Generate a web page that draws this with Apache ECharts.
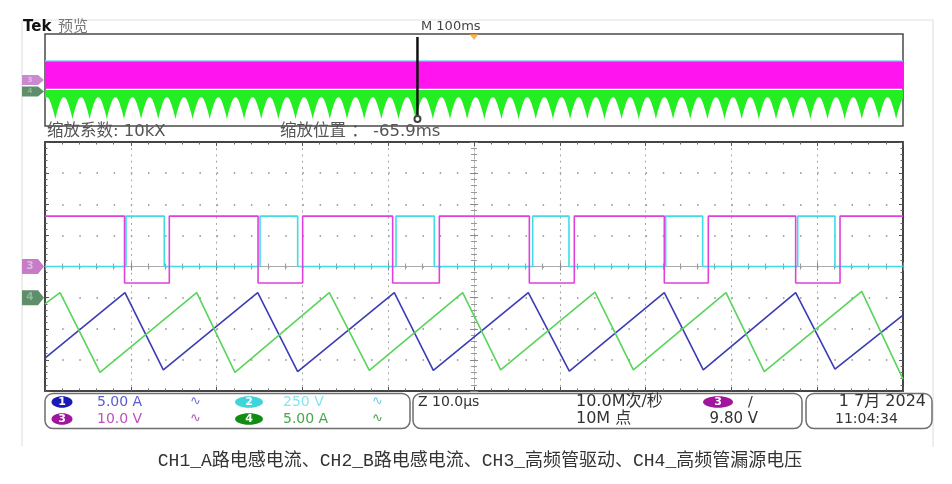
<!DOCTYPE html>
<html><head><meta charset="utf-8">
<script src="https://cdn.jsdelivr.net/npm/echarts@6/dist/echarts.min.js"></script>
<style>html,body{margin:0;padding:0;background:#fff;}#c{width:952px;height:484px;}</style>
</head><body><div id="c"></div>
<script>
// ================= DATA =================
// Main (zoomed) window: 10 µs/div, 10 divisions
const mainTimeUs = [0, 100];
// CH1 (A-leg inductor current, A) – triangle vertices
const ch1TimesUs = [0, 9.32, 13.79, 24.79, 29.45, 40.71, 45.26, 56.33, 61.11, 72.18, 76.72, 87.49, 92.07, 100];
const ch1Amps    = [-9.7, 0.8, -11.6, 0.8, -11.9, 0.8, -11.7, 0.8, -11.8, 0.8, -11.6, 0.8, -11.5, -2.8];
// CH4 (B-leg inductor current, A)
const ch4TimesUs = [0, 1.75, 6.41, 17.68, 22.14, 33.14, 37.8, 48.68, 53.11, 64.1, 68.57, 79.37, 83.83, 95.19, 100];
const ch4Amps    = [-1.0, 0.8, -12.0, 0.8, -12.0, 0.8, -11.7, 0.8, -11.6, 0.9, -11.6, 0.8, -11.9, 1.0, -13.1];
// CH3 (gate drive, V): high / low levels and edge times
const ch3LevelsV = [16.2, -5.3];
const ch3FallUs  = [9.27, 24.83, 40.52, 56.45, 72.18, 87.49];
const ch3RiseUs  = [14.49, 30.03, 45.96, 61.69, 77.31, 92.66];
// CH2 (drain-source voltage, V)
const ch2LevelsV = [0, 405];
const ch2RiseUs  = [9.44, 25.06, 40.91, 56.84, 72.34, 87.73];
const ch2FallUs  = [13.9, 29.45, 45.37, 61.07, 76.65, 92.07];
// Channel vertical scales (units/div) and offsets (div)
const chScale  = {ch1: 5, ch2: 250, ch3: 10, ch4: 5};
const chOffset = {ch1: -1, ch2: 0, ch3: 0, ch4: -1};

// Overview (record) window: 100 ms/div
const overviewTimeMs = [-500, 500];
const zoomPosMs = -65.9;
const ovCh2EnvelopeV = [0, 430];
const ovCh3EnvelopeV = [-7.5, 16];
const ovCh4TopA = 0.7;
const ovCh4FirstTipMs = -488, ovCh4PeriodMs = 20, ovCh4TipCount = 50;
const ovCh4ProfilePhaseMs = [-10, -8.5, -7, -5, -3, -1.5, 0, 1.5, 3, 5, 7, 8.5];
const ovCh4ProfileA       = [-2.5, -2.7, -3.4, -5.2, -7.6, -9.6, -12, -9.6, -7.6, -5.2, -3.4, -2.7];

// ================= BUILD =================
const toDiv = (ch) => (v) => chOffset[ch] + v / chScale[ch];
function pairs(ts, vs, ch){ const f = toDiv(ch); return ts.map((t,i)=>[t, f(vs[i])]); }
function stepPoints(startLevel, otherLevel, toOther, toStart, t0, t1){
  const edges = [];
  toOther.forEach(t=>edges.push([t, otherLevel]));
  toStart.forEach(t=>edges.push([t, startLevel]));
  edges.sort((a,b)=>a[0]-b[0]);
  const pts=[[t0,startLevel]]; let lv=startLevel;
  edges.forEach(([t,n])=>{pts.push([t,lv]);pts.push([t,n]);lv=n;});
  pts.push([t1,lv]);
  return pts;
}
const ch3Pts = stepPoints(ch3LevelsV[0], ch3LevelsV[1], ch3FallUs, ch3RiseUs, mainTimeUs[0], mainTimeUs[1]).map(([t,v])=>[t,toDiv('ch3')(v)]);
const ch2Pts = stepPoints(ch2LevelsV[0], ch2LevelsV[1], ch2RiseUs, ch2FallUs, mainTimeUs[0], mainTimeUs[1]).map(([t,v])=>[t,toDiv('ch2')(v)]);

// overview CH4 lower envelope
const ovX=[], ovLow=[];
for(let k=-1;k<=ovCh4TipCount;k++){
  const tip = ovCh4FirstTipMs + k*ovCh4PeriodMs;
  ovCh4ProfilePhaseMs.forEach((p,i)=>{ovX.push(tip+p); ovLow.push(toDiv('ch4')(ovCh4ProfileA[i]));});
}
const ovHigh = ovX.map(()=>toDiv('ch4')(ovCh4TopA));

function band(xs, lows, highs, color, z){
  return {type:'custom', xAxisIndex:4, yAxisIndex:4, data:[[0,0]], clip:true, silent:true, z:z,
    renderItem:function(params, api){
      const pts=[];
      for(let i=0;i<xs.length;i++) pts.push(api.coord([xs[i], highs[i]]));
      for(let i=xs.length-1;i>=0;i--) pts.push(api.coord([xs[i], lows[i]]));
      return {type:'polygon', shape:{points:pts}, style:{fill:color}};
    }};
}
const full = overviewTimeMs;

const MAIN = {left:45, top:142, width:858, height:249};
const OV = {left:45, top:34, width:858, height:92};
const HALF_H = MAIN.height/2, HALF_W = MAIN.width/2;

const border = {show:true, onZero:false, lineStyle:{color:'#444', width:2}};
const bTick = {show:true, inside:true, length:4, lineStyle:{color:'#555'}};
const bMinor = {show:true, splitNumber:5, length:2.5, lineStyle:{color:'#666'}};
const cLine = {show:true, onZero:false, lineStyle:{color:'#aaa', width:1}};
const noLabel = {show:false};

function xAx(extra){ return Object.assign({gridIndex:0, type:'value', min:mainTimeUs[0], max:mainTimeUs[1], interval:10, axisLabel:noLabel, splitLine:{show:false}}, extra); }
function yAx(extra){ return Object.assign({gridIndex:0, type:'value', min:-4, max:4, interval:1, axisLabel:noLabel, splitLine:{show:false}}, extra); }

const option = {
  animation:false,
  backgroundColor:'#ffffff',
  grid:[
    Object.assign({outerBoundsMode:'none', containLabel:false}, MAIN),
    Object.assign({outerBoundsMode:'none', containLabel:false, show:true, borderColor:'#4a4a4a', borderWidth:1.5, backgroundColor:'transparent'}, OV)
  ],
  xAxis:[
    xAx({position:'bottom', axisLine:border, axisTick:bTick, minorTick:bMinor,
         splitLine:{show:true, lineStyle:{color:'#a8a8a8', width:1, type:[2,4.225]}}}),
    xAx({position:'top', axisLine:border, axisTick:bTick, minorTick:bMinor}),
    xAx({position:'bottom', offset:-HALF_H, axisLine:cLine, axisTick:{show:true, inside:true, length:4, lineStyle:{color:'#888'}}, minorTick:{show:true, splitNumber:5, length:3, lineStyle:{color:'#999'}}}),
    xAx({position:'bottom', offset:-HALF_H, axisLine:cLine, axisTick:{show:true, inside:false, length:4, lineStyle:{color:'#888'}}, minorTick:{show:true, splitNumber:5, length:3, lineStyle:{color:'#999'}}}),
    {gridIndex:1, type:'value', min:full[0], max:full[1], show:false}
  ],
  yAxis:[
    yAx({position:'left', axisLine:border, axisTick:bTick, minorTick:bMinor,
         splitLine:{show:true, lineStyle:{color:'#8c8c8c', width:1.5, type:[1.5,15.66]}}}),
    yAx({position:'right', axisLine:border, axisTick:bTick, minorTick:bMinor}),
    yAx({position:'left', offset:-HALF_W, axisLine:{show:true,onZero:false,lineStyle:{color:'#b0b0b0',width:1,type:[2,2]}}, axisTick:{show:true, inside:true, length:4, lineStyle:{color:'#888'}}, minorTick:{show:true, splitNumber:5, length:3, lineStyle:{color:'#999'}}}),
    yAx({position:'left', offset:-HALF_W, axisLine:{show:false}, axisTick:{show:true, inside:false, length:4, lineStyle:{color:'#888'}}, minorTick:{show:true, splitNumber:5, length:3, lineStyle:{color:'#999'}}}),
    {gridIndex:1, type:'value', min:-4, max:4, show:false}
  ],
  series:[
    {type:'line', name:'CH1', xAxisIndex:0, yAxisIndex:0, data:pairs(ch1TimesUs, ch1Amps, 'ch1'), symbol:'none', lineStyle:{color:'#3c3cb4', width:1.6}, z:3},
    {type:'line', name:'CH2', xAxisIndex:0, yAxisIndex:0, data:ch2Pts, symbol:'none', lineStyle:{color:'#3fdce6', width:1.6}, z:4},
    {type:'line', name:'CH3', xAxisIndex:0, yAxisIndex:0, data:ch3Pts, symbol:'none', lineStyle:{color:'#e040dc', width:1.6}, z:5},
    {type:'line', name:'CH4', xAxisIndex:0, yAxisIndex:0, data:pairs(ch4TimesUs, ch4Amps, 'ch4'), symbol:'none', lineStyle:{color:'#5ad45a', width:1.6}, z:6},
    band([full[0], full[1]], [toDiv('ch2')(ovCh2EnvelopeV[0]),toDiv('ch2')(ovCh2EnvelopeV[0])], [toDiv('ch2')(ovCh2EnvelopeV[1]),toDiv('ch2')(ovCh2EnvelopeV[1])], '#7ad8f0', 2),
    band([full[0], full[1]], [toDiv('ch3')(ovCh3EnvelopeV[0]),toDiv('ch3')(ovCh3EnvelopeV[0])], [toDiv('ch3')(ovCh3EnvelopeV[1]),toDiv('ch3')(ovCh3EnvelopeV[1])], '#ff14f0', 3),
    band(ovX, ovLow, ovHigh, '#22ee22', 4),
    {type:'line', xAxisIndex:4, yAxisIndex:4, z:8, silent:true,
     data:[{value:[zoomPosMs, 3.75], symbol:'none'}, {value:[zoomPosMs, -3.4]}],
     symbol:'emptyCircle', symbolSize:6, showSymbol:true,
     itemStyle:{color:'#444', borderColor:'#444'}, lineStyle:{color:'#111', width:2.5}},
    {type:'scatter', xAxisIndex:4, yAxisIndex:4, z:9, silent:true, data:[[0,4]],
     symbol:'path://M0 0 L10 0 L5 6 Z', symbolSize:[9,6], symbolOffset:[0,3], itemStyle:{color:'#f5a42c'}}
  ]
};

const chart = echarts.init(document.getElementById('c'));
chart.setOption(option);

function marker(y, h, color, label, labelColor){
  const x0=22, x1=38, x2=44;
  return [
    {type:'polygon', shape:{points:[[x0,y-h],[x1,y-h],[x2,y],[x1,y+h],[x0,y+h]]}, style:{fill:color}, z:10},
    {type:'text', x:30, y:y, style:{text:label, fill:labelColor, font:'bold '+(h*1.4)+'px "DejaVu Sans"', align:'center', verticalAlign:'middle', textAlign:'center', textVerticalAlign:'middle'}, z:11}
  ];
}
const yM3 = chart.convertToPixel({xAxisIndex:0, yAxisIndex:0}, [0, chOffset.ch3])[1];
const yM4 = chart.convertToPixel({xAxisIndex:0, yAxisIndex:0}, [0, chOffset.ch4])[1];
const yO3 = chart.convertToPixel({xAxisIndex:4, yAxisIndex:4}, [0, chOffset.ch3])[1];
const yO4 = chart.convertToPixel({xAxisIndex:4, yAxisIndex:4}, [0, chOffset.ch4])[1];

function T(text, x, y, font, fill, align){
  return {type:'text', x:x, y:y, z:20, style:{text:text, fill:fill, font:font, align:align||'left', textAlign:align||'left', verticalAlign:'middle', textVerticalAlign:'middle'}};
}
const F = (s, w) => (w?w+' ':'') + s + 'px "DejaVu Sans", "Noto Sans CJK SC", sans-serif';
function oval(cx, cy, rx, color, label){
  return [
    {type:'ellipse', shape:{cx:cx, cy:cy, rx:rx, ry:5.8}, style:{fill:color}, z:20},
    T(label, cx, cy, F(11,'bold'), '#ffffff', 'center')
  ];
}
function box(x, w){ return {type:'rect', shape:{x:x, y:393.5, width:w, height:35, r:8}, style:{fill:'none', stroke:'#6e6e6e', lineWidth:1.5}, z:19}; }

const graphics = [].concat(
  [{type:'polyline', shape:{points:[[22,446],[22,20],[933,20],[933,447]]}, style:{stroke:'#e2e2e2', lineWidth:1.2, fill:'none'}, z:1}],
  marker(yM3, 7.5, '#c77cc8', '3', '#e3b8e3'),
  marker(yM4, 7.5, '#5f8e6b', '4', '#8fb89a'),
  marker(yO3, 5, '#c98ad0', '3', '#e8c0ea'),
  marker(yO4, 5, '#5f8e6b', '4', '#8fb89a'),
  [
    T('Tek', 23, 27.5, F(15,'bold'), '#111'),
    T('预览', 58, 27.5, F(15), '#777'),
    T('M 100ms', 421, 27, F(13), '#444'),
    T('缩放系数: 10kX', 47, 132, F(16.5), '#555'),
    T('缩放位置 ： ' + zoomPosMs + 'ms', 280, 132, F(16.5), '#555'),
    box(45, 365), box(413, 389), box(806, 126)
  ],
  oval(62, 402, 10.5, '#1a1ab4', '1'),
  oval(62, 419, 10.5, '#a0149e', '3'),
  oval(249, 402, 14, '#3ed4dc', '2'),
  oval(249, 419, 14, '#138c13', '4'),
  oval(718, 402, 15, '#a0149e', '3'),
  [
    T(chScale.ch1.toFixed(2)+' A', 97, 402, F(14), '#5a5ad2'),
    T(chScale.ch3.toFixed(1)+' V', 97, 419, F(14), '#c24cc0'),
    T(chScale.ch2+' V', 283, 402, F(14), '#86e6ee'),
    T(chScale.ch4.toFixed(2)+' A', 283, 419, F(14), '#44a844'),
    T('∿', 190, 402, F(13), '#6a6ad0'),
    T('∿', 190, 419, F(13), '#b050b0'),
    T('∿', 372, 402, F(13), '#60d0da'),
    T('∿', 372, 419, F(13), '#44a044'),
    T('Z 10.0µs', 418, 402, F(14), '#333'),
    T('10.0M次/秒', 576, 402, F(16), '#333'),
    T('10M 点', 576, 419, F(16), '#333'),
    T('/', 748, 402, F(14), '#333'),
    T('9.80 V', 758, 419, F(15), '#333', 'right'),
    T('1 7月 2024', 926, 402, F(16), '#333', 'right'),
    T('11:04:34', 835, 419, F(14), '#333'),
    T('CH1_A路电感电流、CH2_B路电感电流、CH3_高频管驱动、CH4_高频管漏源电压', 480, 461,
      '18px "Liberation Mono", "Noto Sans CJK SC", monospace', '#333', 'center')
  ]
);
chart.setOption({graphic: graphics});
</script></body></html>
